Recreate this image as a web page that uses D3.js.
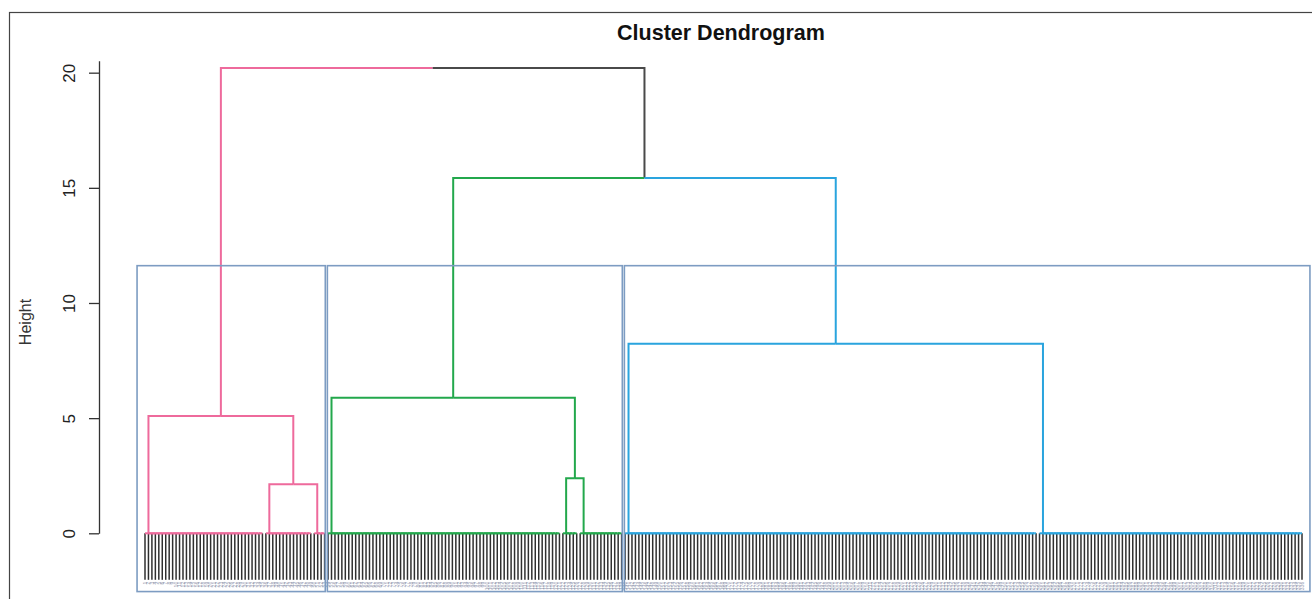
<!DOCTYPE html>
<html>
<head>
<meta charset="utf-8">
<script src="https://cdn.jsdelivr.net/npm/d3@7"></script>
<style>
  body { margin: 0; background: #fff; }
  text { font-family: "Liberation Sans", Arial, sans-serif; }
</style>
</head>
<body>
<script>
// leaf groups merged at height 0, left to right (leaf counts)
const groupSizes   = [35, 14, 4, 68, 5, 13, 120, 77];
const groupCluster = [0, 0, 0, 1, 1, 1, 2, 2];

// cluster colours (k = 3)
const clusterColors = ["#ee6a9c", "#23a84c", "#2aa4de"];

// merges like hclust: "g" = leaf group, "m" = earlier merge
const mergePairs   = [["g1", "g2"], ["g0", "m0"], ["g4", "g5"], ["g3", "m2"], ["g6", "g7"], ["m3", "m4"], ["m1", "m5"]];
const mergeHeights = [2.13, 5.09, 2.39, 5.89, 8.23, 15.43, 20.2];

const yTicks = [0, 5, 10, 15, 20];
const rectTop = 11.62;

const N = d3.sum(groupSizes);
const leafLabels = d3.range(1, N + 1).map(String);
const hang = 0.1 * d3.max(mergeHeights);

const width = 1312, height = 599;

let x = d3.scaleLinear().domain([0, N - 1]).range([145, 1302]);
let y = d3.scaleLinear().domain([0, 20.52]).range([533.3, 60.7]);

// build tree: each group is a chain of leaves at height 0
let start = 0;
let groups = groupSizes.map((n, gi) => {
  let leaves = d3.range(start, start + n).map(i => ({ leaf: true, idx: i, h: 0, cluster: groupCluster[gi] }));
  start += n;
  let node = leaves[n - 1];
  for (let k = n - 2; k >= 0; k--) {
    node = { left: leaves[k], right: node, h: 0, cluster: groupCluster[gi] };
  }
  return { node, first: leaves[0].idx, last: leaves[n - 1].idx };
});

let merged = [];
mergePairs.forEach((p, i) => {
  let get = id => id[0] === "g" ? groups[+id.slice(1)].node : merged[+id.slice(1)];
  let l = get(p[0]), r = get(p[1]);
  merged.push({ left: l, right: r, h: mergeHeights[i], cluster: l.cluster === r.cluster ? l.cluster : -1 });
});
let root = merged[merged.length - 1];

// R style positions: leaf = index, node = mean of children
function place(n) {
  if (n.leaf) { n.x = n.idx; return n.x; }
  n.x = (place(n.left) + place(n.right)) / 2;
  return n.x;
}
place(root);

let leafEdges = [], branchEdges = [];
(function walk(n) {
  if (n.leaf) return;
  [n.left, n.right].forEach(c => {
    let col = c.cluster < 0 ? "#4a4a4a" : clusterColors[c.cluster];
    branchEdges.push({ x0: c.x, h0: c.h, x1: n.x, h1: n.h, color: col });
    if (c.leaf) leafEdges.push({ x: c.x, h0: n.h - hang, h1: n.h, label: leafLabels[c.idx] });
    walk(c);
  });
})(root);

let svg = d3.select("body").append("svg")
  .attr("width", width)
  .attr("height", height);

// figure frame
svg.append("rect")
  .attr("x", 9.5).attr("y", 12.5)
  .attr("width", 1400).attr("height", 700)
  .attr("fill", "none")
  .attr("stroke", "#444")
  .attr("stroke-width", 1.2);

svg.append("text")
  .attr("x", 721).attr("y", 40)
  .attr("text-anchor", "middle")
  .attr("font-size", 21.5)
  .attr("font-weight", "bold")
  .attr("fill", "#111")
  .text("Cluster Dendrogram");

svg.append("text")
  .attr("transform", "translate(31, 322) rotate(-90)")
  .attr("text-anchor", "middle")
  .attr("font-size", 16)
  .attr("fill", "#333")
  .text("Height");

let yAxis = d3.axisLeft(y).tickValues(yTicks).tickSize(10).tickSizeOuter(0);
let ax = svg.append("g").attr("transform", "translate(99, 0)").call(yAxis);
ax.select(".domain").attr("stroke", "#333").attr("stroke-width", 1.3);
ax.selectAll(".tick line").attr("stroke", "#333").attr("stroke-width", 1.3);
ax.selectAll(".tick text")
  .attr("x", 0).attr("y", 0).attr("dy", null)
  .attr("text-anchor", "middle")
  .attr("transform", "translate(-24, 0) rotate(-90)")
  .attr("font-size", 17)
  .attr("fill", "#222");

// leaves hanging below 0
svg.append("g")
  .selectAll("line")
  .data(leafEdges)
  .enter().append("line")
  .attr("x1", d => x(d.x)).attr("x2", d => x(d.x))
  .attr("y1", d => y(d.h1)).attr("y2", d => y(d.h0))
  .attr("stroke", "#2f2f2f")
  .attr("stroke-width", 1.5);

svg.append("g")
  .selectAll("text")
  .data(leafEdges)
  .enter().append("text")
  .attr("transform", d => `translate(${x(d.x)}, ${y(d.h0) + 2}) rotate(-90)`)
  .attr("text-anchor", "end")
  .attr("dy", "0.35em")
  .attr("font-size", 5)
  .attr("fill", "#8f97ad")
  .text(d => d.label);

// branches
svg.append("g")
  .attr("fill", "none")
  .selectAll("path")
  .data(branchEdges)
  .enter().append("path")
  .attr("d", d => `M${x(d.x0)},${y(d.h0)}V${y(d.h1)}H${x(d.x1)}`)
  .attr("stroke", d => d.color)
  .attr("stroke-width", 2);

// cluster rectangles
let clusterRanges = clusterColors.map((c, ci) => {
  let gs = groups.filter((g, gi) => groupCluster[gi] === ci);
  return { first: d3.min(gs, g => g.first), last: d3.max(gs, g => g.last) };
});
let rectLeft  = (d, i) => i === 0 ? d.first - 2.3 : d.first - 0.2;
let rectRight = (d, i) => i === clusterRanges.length - 1 ? d.last + 2.3 : d.last + 0.2;
svg.append("g")
  .selectAll("rect")
  .data(clusterRanges)
  .enter().append("rect")
  .attr("x", (d, i) => x(rectLeft(d, i)))
  .attr("width", (d, i) => x(rectRight(d, i)) - x(rectLeft(d, i)))
  .attr("y", y(rectTop))
  .attr("height", y(-2.53) - y(rectTop))
  .attr("fill", "none")
  .attr("stroke", "#7d9cc2")
  .attr("stroke-width", 1.6);
</script>
</body>
</html>
